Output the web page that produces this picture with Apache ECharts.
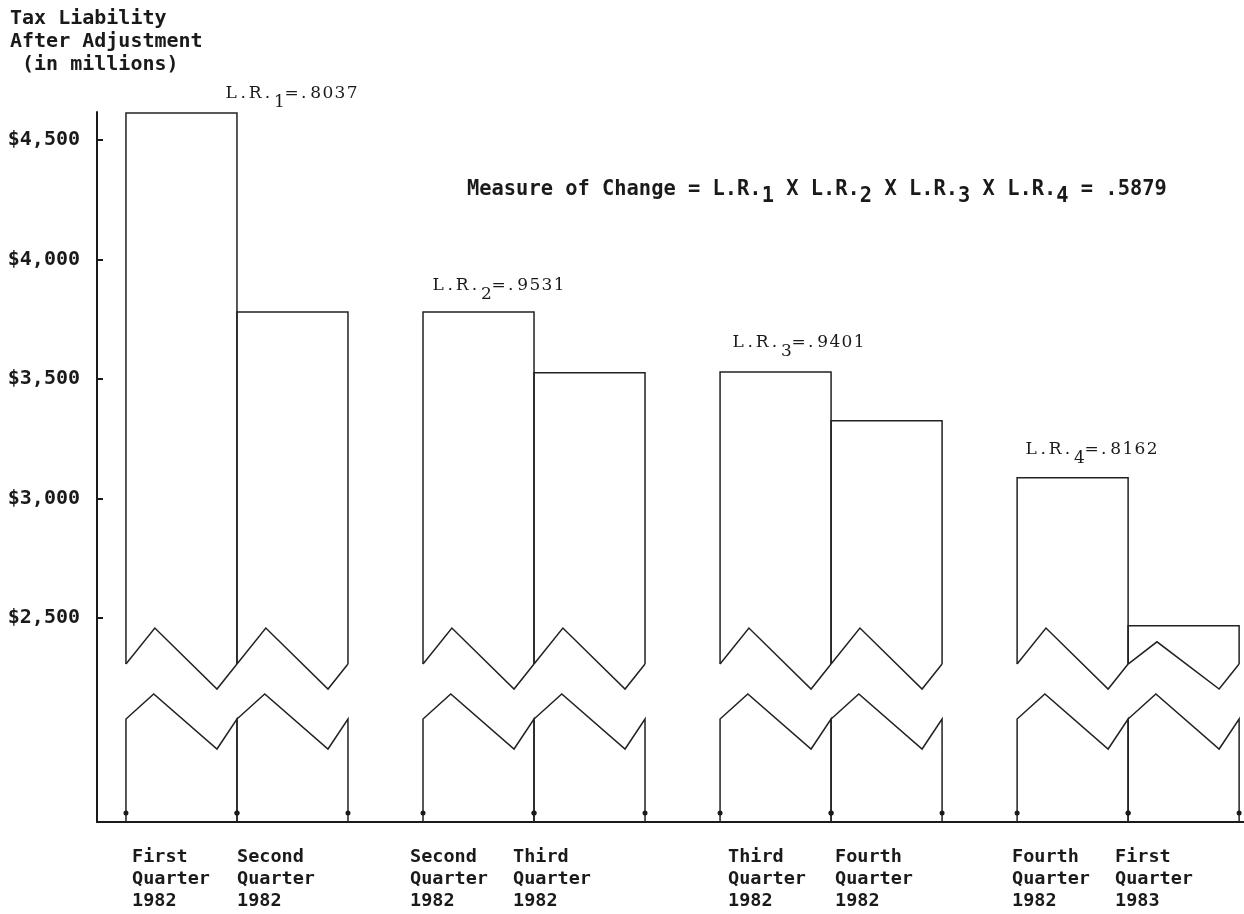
<!DOCTYPE html>
<html><head><meta charset="utf-8">
<script src="https://cdn.jsdelivr.net/npm/echarts@6/dist/echarts.min.js"></script>
<style>html,body{margin:0;padding:0;background:#fff}#c{width:1244px;height:914px}</style>
</head><body><div id="c"></div>
<script>
// ---- data ----
const categories = ['First\nQuarter\n1982','Second\nQuarter\n1982','Second\nQuarter\n1982','Third\nQuarter\n1982',
                    'Third\nQuarter\n1982','Fourth\nQuarter\n1982','Fourth\nQuarter\n1982','First\nQuarter\n1983'];
const values = [4613, 3780, 3780, 3526, 3529, 3325, 3086, 2467];
const pairIndex = [0, 0, 1, 1, 2, 2, 3, 3];
const ratioSubs = ['1', '2', '3', '4'];
const ratioValues = ['.8037', '.9531', '.9401', '.8162'];
const yTicks = [2500, 3000, 3500, 4000, 4500];
const measureValue = '.5879';
const titleLines = ['Tax Liability', 'After Adjustment', ' (in millions)'];

// ---- layout ----
const Y_MIN = 1646, Y_MAX = 4617;
const X_MAX = 10.333, PAIR_OFFSET = 0.261, PAIR_STEP = 2.676;
const BREAK_UP = 2307, BREAK_LO = 2077;
const INK = '#1a1a1a';
const MONO = '"DejaVu Sans Mono", monospace';
const SERIF = '"DejaVu Serif", serif';

const barData = values.map((v, i) => [PAIR_OFFSET + pairIndex[i] * PAIR_STEP + (i % 2), v]);

function renderBar(params, api) {
  const xs = api.value(0), v = api.value(1);
  const L = api.coord([xs, v]), R = api.coord([xs + 1, v]);
  const left = L[0], right = R[0], top = L[1], W = right - left;
  const base = api.coord([xs, Y_MIN])[1];
  const up = api.coord([xs, BREAK_UP])[1];
  const lo = api.coord([xs, BREAK_LO])[1];
  const upPeak = Math.max(up - 36, top + 16);
  const ls = {stroke: '#222', lineWidth: 1.5, fill: null};
  return {
    type: 'group',
    children: [
      {type: 'polyline', shape: {points: [[left, up], [left, top], [right, top], [right, up]]}, style: ls},
      {type: 'polyline', shape: {points: [[left, up], [left + 0.26 * W, upPeak], [left + 0.82 * W, up + 25], [right, up]]}, style: ls},
      {type: 'polyline', shape: {points: [[left, base], [left, lo], [left + 0.25 * W, lo - 25], [left + 0.82 * W, lo + 30], [right, lo], [right, base]]}, style: ls},
      {type: 'circle', shape: {cx: left, cy: base - 9, r: 2.5}, style: {fill: INK}},
      {type: 'circle', shape: {cx: right, cy: base - 9, r: 2.5}, style: {fill: INK}}
    ]
  };
}

// L.R. labels: typewriter-like spacing, one char per 12px cell
function ratioRich(sub, val) {
  const cells = s => s.split('').map(ch => '{c|' + ch + '}').join('');
  return cells('L.R.') + '{d|' + sub + '}' + cells('=' + val);
}
const ratioPos = [[225, 93.5], [432, 286], [732, 343], [1025, 449.5]];
const labelPos = [132, 237, 410, 513, 728, 835, 1012, 1115];

const graphics = [];
graphics.push({type: 'text', x: 10, y: 7.5, style: {text: titleLines.join('\n'), fontFamily: MONO, fontWeight: 'bold', fontSize: 20, lineHeight: 23, fill: INK, verticalAlign: 'top'}});
let m = '{m|Measure of Change = L.R.}';
ratioSubs.forEach((s, k) => { m += '{s|' + s + '}' + (k < ratioSubs.length - 1 ? '{m| X L.R.}' : ''); });
m += '{m| = ' + measureValue + '}';
graphics.push({type: 'text', x: 467, y: 190, style: {text: m, verticalAlign: 'middle', fill: INK,
  rich: {m: {fontFamily: MONO, fontWeight: 'bold', fontSize: 20.4, fill: INK},
         s: {fontFamily: MONO, fontWeight: 'bold', fontSize: 20.4, fill: INK, padding: [14, 0, 0, 0]}}}});
ratioSubs.forEach((s, k) => {
  graphics.push({type: 'text', x: ratioPos[k][0], y: ratioPos[k][1], style: {text: ratioRich(s, ratioValues[k]), verticalAlign: 'middle', fill: INK,
    rich: {c: {fontFamily: SERIF, fontSize: 17, width: 12.1, align: 'center', fill: INK},
           d: {fontFamily: SERIF, fontSize: 17, width: 12.1, align: 'center', fill: INK, padding: [18, 0, 0, 0]}}}});
});
categories.forEach((c, i) => {
  graphics.push({type: 'text', x: labelPos[i], y: 846, style: {text: c, fontFamily: MONO, fontWeight: 'bold', fontSize: 18.5, lineHeight: 22, fill: INK, verticalAlign: 'top'}});
});

const chart = echarts.init(document.getElementById('c'), null, {renderer: 'canvas'});
chart.setOption({
  animation: false,
  backgroundColor: '#fff',
  grid: {left: 97, right: 0, top: 112, bottom: 92, containLabel: false},
  xAxis: {type: 'value', min: 0, max: X_MAX, axisLine: {show: true, onZero: false, lineStyle: {color: INK, width: 2.2}},
          axisTick: {show: false}, axisLabel: {show: false}, splitLine: {show: false}},
  yAxis: {type: 'value', min: Y_MIN, max: Y_MAX,
          axisLine: {show: true, onZero: false, lineStyle: {color: INK, width: 2}},
          axisTick: {show: true, inside: true, length: 6, lineStyle: {color: INK, width: 2}, customValues: yTicks},
          axisLabel: {show: true, customValues: yTicks, margin: 17, fontFamily: MONO, fontWeight: 'bold', fontSize: 20, color: INK,
                      formatter: v => '$' + Number(v).toLocaleString('en-US')},
          splitLine: {show: false}},
  series: [{type: 'custom', renderItem: renderBar, data: barData, clip: false, encode: {x: 0, y: 1}}],
  graphic: graphics
});
</script></body></html>
